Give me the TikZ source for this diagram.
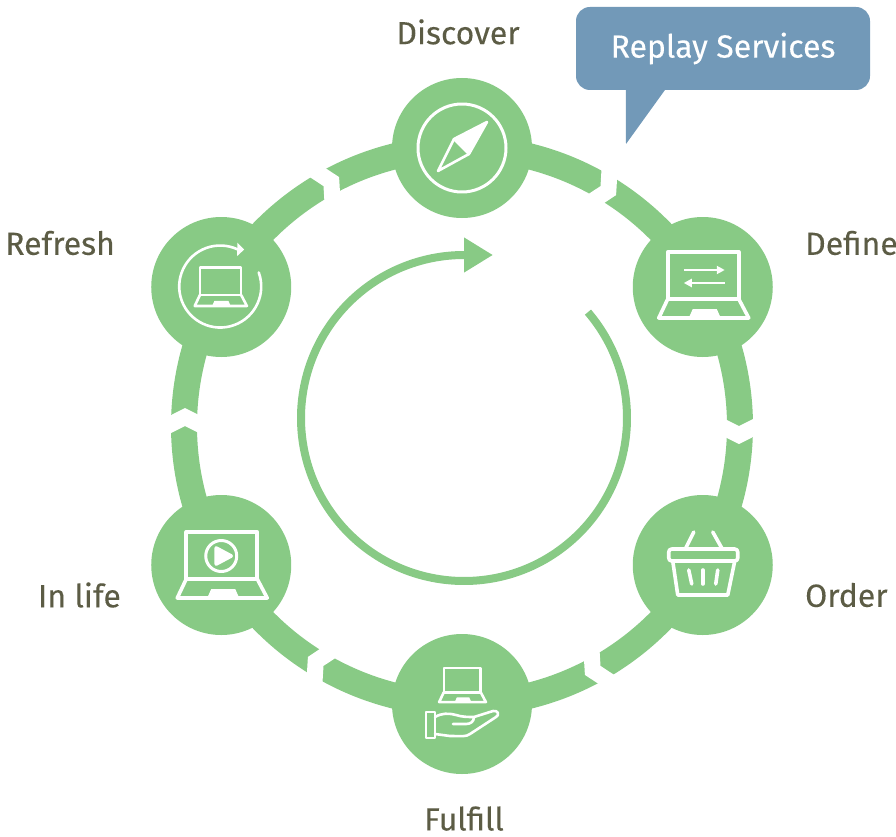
\documentclass[tikz,border=0pt]{standalone}
\usepackage{fontspec}
\setmainfont{Fira Sans}[FakeBold=0.15]
\usepackage{xcolor}
\usetikzlibrary{positioning}
\usetikzlibrary{arrows.meta}
\definecolor{stagegreen}{HTML}{88CA85}
\definecolor{calloutblue}{HTML}{7299B8}
\definecolor{labelolive}{HTML}{5C5C45}

\tikzset{
  stage/.style = {circle, fill=stagegreen, minimum size=140pt, inner sep=0pt},
  stagelabel/.style = {text=labelolive, font=\fontsize{32}{32}\selectfont, inner sep=0pt},
  ringarc/.style = {draw=stagegreen, line width=26pt},
  icon/.style = {draw=white, line width=3.6pt, line cap=round, line join=round},
  thinicon/.style = {draw=white, line width=2.6pt, line cap=round, line join=round},
  laptop/.pic = {
    \draw (-35,-12) rectangle (36,35);
    \draw (-35,-12) -- (-44,-31) -- (46,-31) -- (36,-12);
    \fill[white] (-14,-31) -- (-10,-22) -- (14,-22) -- (18,-31) -- cycle;
  }
}

\begin{document}
\begin{tikzpicture}[x=1pt, y=1pt]
\useasboundingbox (-462,-410) rectangle (434,426);

\node [stage] (discover) at (90:278) {};
\node [stage] (define) at (30:278) {};
\node [stage] (order) at (-30:278) {};
\node [stage] (fulfill) at (-90:278) {};
\node [stage] (inlife) at (-150:278) {};
\node [stage] (refresh) at (150:278) {};

\node [stagelabel, above=33pt of discover, xshift=-4pt] {Discover};
\node [stagelabel, right=32pt of define, yshift=44pt] {Define};
\node [stagelabel, right=32pt of order, yshift=-30pt] {Order};
\node [stagelabel, below=32pt of fulfill, xshift=2pt] {Fulfill};
\node [stagelabel, left=30pt of inlife, yshift=-30pt] {In life};
\node [stagelabel, left=36pt of refresh, yshift=44pt] {Refresh};

% ring between the stages
\draw [ringarc] (discover.center) arc[start angle=90, end angle=30, radius=278pt];
\draw [ringarc] (define.center) arc[start angle=30, end angle=-30, radius=278pt];
\draw [ringarc] (order.center) arc[start angle=-30, end angle=-90, radius=278pt];
\draw [ringarc] (fulfill.center) arc[start angle=-90, end angle=-150, radius=278pt];
\draw [ringarc] (inlife.center) arc[start angle=-150, end angle=-210, radius=278pt];
\draw [ringarc] (refresh.center) arc[start angle=150, end angle=90, radius=278pt];
\foreach \gap in {60,0,-60,-120,180,120}
  \fill [white, rotate=\gap] (297,10) -- (277,0) -- (257,10) -- (257,-8) -- (277,-18) -- (297,-8) -- cycle;

% big arrow in the middle
\coordinate (hub) at (2,8);
\coordinate (cyclestart) at ([shift={(40.5:163pt)}]hub);
\coordinate (cycletip) at ([shift={(29pt,163pt)}]hub);
\draw [stagegreen, line width=8pt, -{Triangle[length=29pt, width=33pt]}]
  (cyclestart) arc[start angle=40.5, end angle=-270, radius=163pt] -- (cycletip);

% callout
\node [fill=calloutblue, rounded corners=14pt, minimum width=294pt, minimum height=83pt,
  text=white, font=\fontsize{32}{32}\selectfont] (replay) at (261,377.5) {\raisebox{-2pt}{Replay Services}};
\coordinate (tailtip) at (164,282);
\fill [calloutblue] ([xshift=50pt]replay.south west) -- (tailtip) -- ([xshift=89pt]replay.south west) -- cycle;

% compass
\begin{scope}[shift={(discover.center)}]
  \draw [icon, line width=3pt] (0,0) circle (44);
  \fill [white, icon, line width=2.6pt] (25,26) -- (-8,9) -- (7,-6) -- cycle;
  \draw [icon, line width=2.6pt] (-8,9) -- (-24,-23) -- (7,-6);
\end{scope}

% laptop with arrows
\begin{scope}[shift={(define.center)}]
  \pic [icon] {laptop};
  \draw [white, line width=2pt, -{Triangle[length=8pt, width=8pt]}] (-19,17) -- (22,17);
  \draw [white, line width=2pt, -{Triangle[length=8pt, width=8pt]}] (22,4) -- (-19,4);
\end{scope}

% basket
\begin{scope}[shift={(order.center)}]
  \draw [icon, rounded corners=3pt] (-34,4) rectangle (35,16);
  \draw [icon] (-30,4) -- (-25,-30) -- (25,-30) -- (32,4);
  \draw [icon] (-17,17) -- (-9,33);
  \draw [icon] (19,17) -- (10,33);
  \draw [icon] (-14,-5) -- (-11,-19);
  \draw [icon] (0,-5) -- (0,-19);
  \draw [icon] (15,-5) -- (13,-19);
\end{scope}

% laptop over a hand
\begin{scope}[shift={(fulfill.center)}]
  \pic [thinicon, scale=0.52, transform shape] at (0,18) {laptop};
  \draw [thinicon] (-36,-8) rectangle (-27,-34);
  \draw [thinicon] (-27,-13) .. controls (-20,-9) and (-14,-9) .. (-6,-11) .. controls (0,-13) and (6,-13) .. (12,-13)
    -- (31,-7) .. controls (36,-6) and (38,-11) .. (34,-13) -- (8,-30) .. controls (4,-33) and (0,-32) .. (-12,-32) -- (-27,-30);
  \draw [thinicon] (-9,-20) -- (4,-20) .. controls (8,-20) and (12,-18) .. (12,-13);
\end{scope}

% laptop with play button
\begin{scope}[shift={(inlife.center)}]
  \pic [icon] at (0,-2) {laptop};
  \draw [icon, line width=3pt] (0,9) circle (15.5);
  \fill [white, icon] (-5,17) -- (10,9) -- (-5,1) -- cycle;
\end{scope}

% laptop in a refresh circle
\begin{scope}[shift={(refresh.center)}]
  \pic [thinicon, scale=0.58, transform shape] at (-1,-1) {laptop};
  \coordinate (refreshtip) at (23,37.5);
  \draw [thinicon, -{Triangle[length=7pt, width=13pt]}] (37.5,14.5) arc[start angle=20, end angle=-295, radius=41pt] -- (refreshtip);
\end{scope}
\end{tikzpicture}
\end{document}
